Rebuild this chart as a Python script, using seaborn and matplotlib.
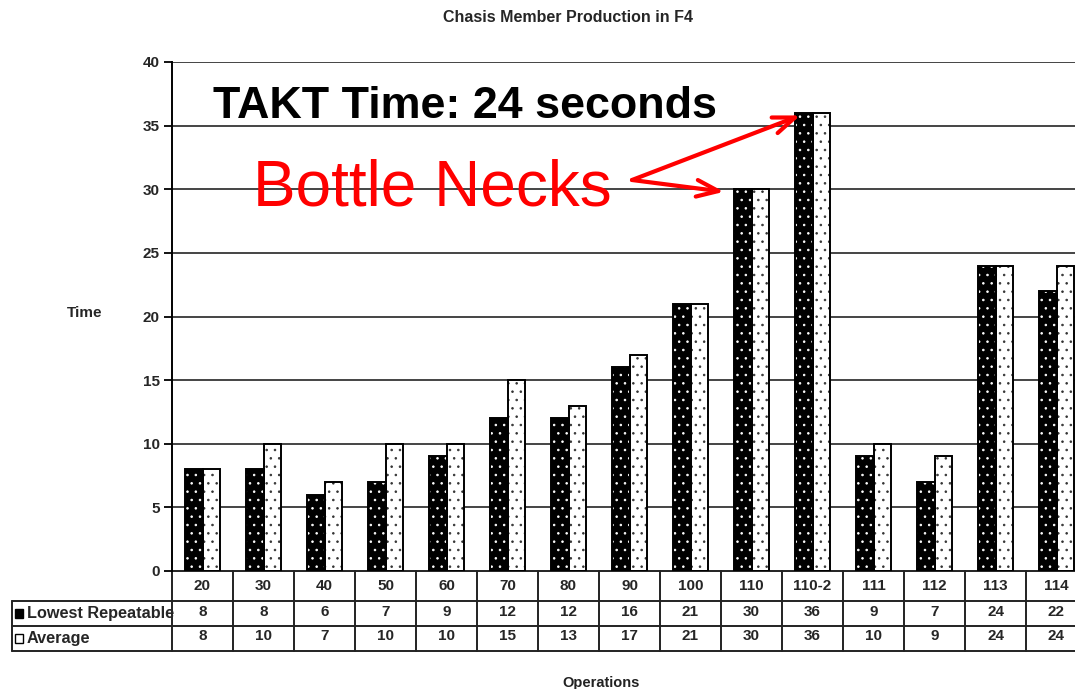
import matplotlib
matplotlib.use("Agg")
import matplotlib.pyplot as plt
import matplotlib.transforms as mtransforms
from matplotlib.patches import Rectangle
import seaborn as sns
import pandas as pd

operations = ["20", "30", "40", "50", "60", "70", "80", "90", "100", "110",
              "110-2", "111", "112", "113", "114"]
lowest_repeatable = [8, 8, 6, 7, 9, 12, 12, 16, 21, 30, 36, 9, 7, 24, 22]
average = [8, 10, 7, 10, 10, 15, 13, 17, 21, 30, 36, 10, 9, 24, 24]
series_names = ["Lowest Repeatable", "Average"]
y_ticks = [0, 5, 10, 15, 20, 25, 30, 35, 40]

sns.set_theme(style="white")
plt.rcParams["font.family"] = ["Liberation Sans", "DejaVu Sans"]
plt.rcParams["hatch.linewidth"] = 0.6

df = pd.DataFrame({
    "Operation": operations * 2,
    "Series": [series_names[0]] * len(operations) + [series_names[1]] * len(operations),
    "Time": lowest_repeatable + average,
})

fig = plt.figure(figsize=(10.75, 6.89), dpi=100)
ax = fig.add_axes([172 / 1075, 118 / 689, 915 / 1075, 509 / 689])

sns.barplot(data=df, x="Operation", y="Time", hue="Series", order=operations,
            hue_order=series_names, palette=["black", "white"], width=0.56,
            gap=0, legend=False, ax=ax, errorbar=None, saturation=1)

n = len(operations)
bars = list(ax.patches)
for i, p in enumerate(bars):
    if i < n:
        p.set_facecolor("black")
        p.set_edgecolor("white")
    else:
        p.set_facecolor("white")
        p.set_edgecolor("#333333")
    p.set_hatch("..")
    p.set_linewidth(0)
    ax.add_patch(Rectangle(p.get_xy(), p.get_width(), p.get_height(),
                           fill=False, edgecolor="black", linewidth=1.4, zorder=3))

ax.set_ylim(0, 40)
ax.set_xlim(-0.5, n - 0.5)
ax.set_yticks(y_ticks)
ax.set_yticklabels([str(t) for t in y_ticks], fontsize=11, fontweight="bold")
ax.set_xticks([])
ax.set_xlabel("")
ax.set_ylabel("")
for t in y_ticks[1:]:
    ax.axhline(t, color="#444444", linewidth=1.4, zorder=0)
for s in ["top", "right", "bottom"]:
    ax.spines[s].set_visible(False)
ax.spines["left"].set_color("black")
ax.spines["left"].set_linewidth(1.4)
ax.tick_params(axis="y", length=6, width=1.3, color="black", left=True, pad=3)

# data table below axes
tr = mtransforms.blended_transform_factory(ax.transData, ax.transAxes)
px = 1 / 509.0
row_lines = [0.0, -30 * px, -55 * px, -80 * px]
row_centers = [-15 * px, -42.5 * px, -67.5 * px]
lw = 1.4
ax.plot([-0.5, n + 0.5], [row_lines[0]] * 2, transform=tr, color="#222222", lw=lw, clip_on=False)
for y in row_lines[1:]:
    ax.plot([-(172 - 12) / 915, 1.05], [y, y], transform=ax.transAxes,
            color="#222222", lw=lw, clip_on=False)
for k in range(n + 1):
    ax.plot([k - 0.5, k - 0.5], [row_lines[0], row_lines[-1]], transform=tr,
            color="#222222", lw=lw, clip_on=False)
ax.plot([-(172 - 12) / 915] * 2, [row_lines[1], row_lines[-1]], transform=ax.transAxes,
        color="#222222", lw=lw, clip_on=False)

for k, op in enumerate(operations):
    ax.text(k, row_centers[0], op, transform=tr, ha="center", va="center",
            fontsize=11, fontweight="bold")
    ax.text(k, row_centers[1] + 2 * px, str(lowest_repeatable[k]), transform=tr,
            ha="center", va="center", fontsize=11, fontweight="bold")
    ax.text(k, row_centers[2] + 2 * px, str(average[k]), transform=tr,
            ha="center", va="center", fontsize=11, fontweight="bold")

key_x = (15 - 172) / 915
for r, (name, fc) in enumerate([(series_names[0], "black"), (series_names[1], "white")]):
    yc = row_centers[r + 1]
    ax.add_patch(Rectangle((key_x, yc - 4.5 * px), 8 / 915, 9 * px, transform=ax.transAxes,
                           facecolor=fc, edgecolor="black", lw=1.0, clip_on=False))
    ax.text((27 - 172) / 915, yc, name, transform=ax.transAxes, ha="left", va="center",
            fontsize=11.7, fontweight="bold")

fig.text(568 / 1075, 1 - 18 / 689, "Chasis Member Production in F4", ha="center",
         va="center", fontsize=11.5, fontweight="bold")
fig.text(85 / 1075, 1 - 313 / 689, "Time", ha="center", va="center",
         fontsize=11, fontweight="bold")
fig.text(601 / 1075, 1 - 683 / 689, "Operations", ha="center", va="center",
         fontsize=10.5, fontweight="semibold", color="#222222")

ax.text((213 - 172) / 915, (571 - 118) / 509, "TAKT Time: 24 seconds", transform=ax.transAxes,
        ha="left", va="baseline", fontsize=32.3, fontweight="bold", color="black")
ax.text((253 - 172) / 915, (571 - 205) / 509, "Bottle Necks", transform=ax.transAxes,
        ha="left", va="baseline", fontsize=46, color="#ff0000")
src = ((632 - 172) / 915, (571 - 180) / 509)
i_a = operations.index("110-2")
i_b = operations.index("110")
for idx, dx in [(i_a, -0.2), (i_b, -0.45)]:
    ax.annotate("", xy=(idx + dx, lowest_repeatable[idx] - 0.2), xycoords="data",
                xytext=src, textcoords="axes fraction",
                arrowprops=dict(arrowstyle="->,head_length=1.3,head_width=0.5",
                                color="#ff0000", lw=3, shrinkA=0, shrinkB=0))

fig.savefig("out.png", dpi=100)
